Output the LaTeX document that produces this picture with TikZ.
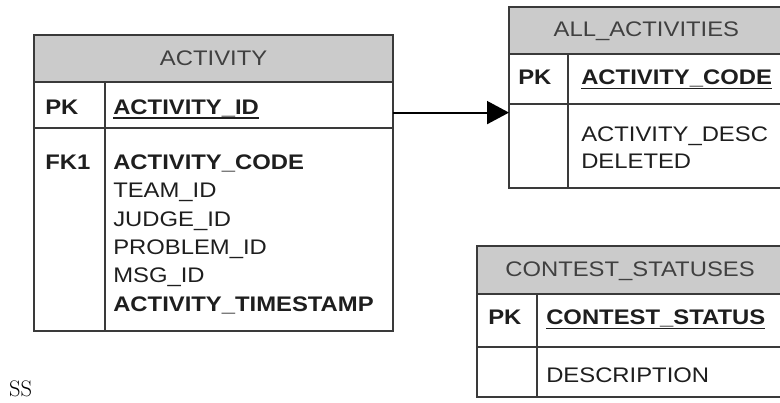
\documentclass[tikz,border=0pt]{standalone}
\usepackage{fontspec}
\usetikzlibrary{arrows.meta}
\newfontfamily\erfont[FakeStretch=1.13]{Liberation Sans}
\definecolor{tblline}{HTML}{3A3A3A}
\definecolor{tblhead}{HTML}{CBCBCB}
\definecolor{tbltext}{HTML}{1E1E1E}

\begin{document}
\begin{tikzpicture} [scale = 1,
  tbl/.style = {tblline, line width=1.4pt},
  hdr/.style = {fill=tblhead},
  fld/.style = {anchor=base west, inner sep=0pt, text=tbltext, font=\erfont\fontsize{15}{18}\selectfont},
  key/.style = {fld, font=\erfont\fontsize{15}{18}\selectfont\bfseries},
  title/.style = {anchor=base, inner sep=0pt, text=tbltext!85, font=\erfont\fontsize{15}{18}\selectfont},
  pkline/.style = {tbltext, line width=1.2pt},
  rel/.style = {black, line width=1.4pt, -{Triangle[length=0.55cm, width=0.575cm]}}]
\clip (0, 0) rectangle (19.5, 10.075);

\fill[hdr] (0.85, 9.2) rectangle (9.825, 8.025);
\draw[tbl] (0.85, 9.2) rectangle (9.825, 1.8);
\draw[tbl] (0.85, 8.025) -- (9.825, 8.025);
\draw[tbl] (0.85, 6.875) -- (9.825, 6.875);
\draw[tbl] (2.625, 8.025) -- (2.625, 1.8);
\node[title] (act-title) at (5.34, 8.44){ACTIVITY};
\node[key] (act-pk) at (1.125, 7.21){PK};
\node[key] (act-id) at (2.825, 7.21){ACTIVITY\_ID};
\node[key] (act-fk) at (1.125, 5.84){FK1};
\node[key] (act-code) at (2.825, 5.84){ACTIVITY\_CODE};
\node[fld] (act-team) at (2.825, 5.13){TEAM\_ID};
\node[fld] (act-judge) at (2.825, 4.42){JUDGE\_ID};
\node[fld] (act-problem) at (2.825, 3.71){PROBLEM\_ID};
\node[fld] (act-msg) at (2.825, 3.00){MSG\_ID};
\node[key] (act-stamp) at (2.825, 2.29){ACTIVITY\_TIMESTAMP};
\draw[pkline] ([yshift=-0.09cm]act-id.base west) -- ([yshift=-0.09cm]act-id.base east);

\fill[hdr] (12.725, 9.9) rectangle (19.625, 8.725);
\draw[tbl] (12.725, 9.9) rectangle (19.625, 5.375);
\draw[tbl] (12.725, 8.725) -- (19.625, 8.725);
\draw[tbl] (12.725, 7.475) -- (19.625, 7.475);
\draw[tbl] (14.2, 8.725) -- (14.2, 5.375);
\node[title] (all-title) at (16.16, 9.15){ALL\_ACTIVITIES};
\node[key] (all-pk) at (12.95, 7.95){PK};
\node[key] (all-code) at (14.525, 7.95){ACTIVITY\_CODE};
\node[fld] (all-desc) at (14.525, 6.54){ACTIVITY\_DESC};
\node[fld] (all-deleted) at (14.525, 5.86){DELETED};
\draw[pkline] ([yshift=-0.09cm]all-code.base west) -- ([yshift=-0.09cm]all-code.base east);

\fill[hdr] (11.925, 3.925) rectangle (19.625, 2.725);
\draw[tbl] (11.925, 3.925) rectangle (19.625, 0.15);
\draw[tbl] (11.925, 2.725) -- (19.625, 2.725);
\draw[tbl] (11.925, 1.4) -- (19.625, 1.4);
\draw[tbl] (13.425, 2.725) -- (13.425, 0.15);
\node[title] (cs-title) at (15.75, 3.15){CONTEST\_STATUSES};
\node[key] (cs-pk) at (12.2, 1.95){PK};
\node[key] (cs-status) at (13.65, 1.95){CONTEST\_STATUS};
\node[fld] (cs-desc) at (13.65, 0.5){DESCRIPTION};
\draw[pkline] ([yshift=-0.09cm]cs-status.base west) -- ([yshift=-0.09cm]cs-status.base east);

\coordinate (act-r) at (9.825, 7.26);
\coordinate (all-l) at (12.725, 7.26);
\draw[rel] (act-r) -- (all-l);

\node[anchor=base west, inner sep=0pt, font=\fontsize{16}{19}\selectfont] (ss) at (0.22, 0.15){SS};
\end{tikzpicture}
\end{document}
